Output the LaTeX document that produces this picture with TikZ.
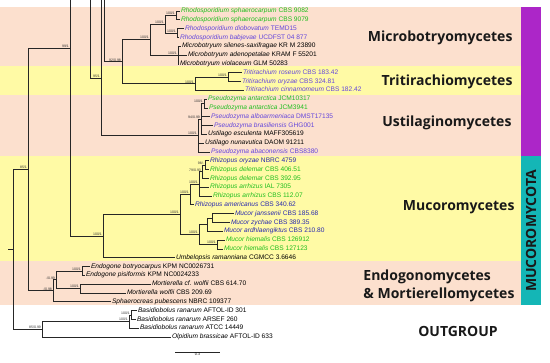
\documentclass[tikz,border=0pt]{standalone}
\usepackage{fontspec}
\setmainfont{Liberation Sans}
\newfontfamily\cladefont{Open Sans}

\definecolor{tgreen}{RGB}{30,190,30}
\definecolor{tviolet}{RGB}{100,70,220}
\definecolor{tblue}{RGB}{40,40,175}
\definecolor{bandpink}{RGB}{252,224,206}
\definecolor{bandyellow}{RGB}{255,250,165}
\definecolor{basidio}{RGB}{172,38,200}
\definecolor{mucoro}{RGB}{20,182,182}

\newcommand{\taxon}[2]{\textit{#1} #2}

\begin{document}
\begin{tikzpicture}[x=1pt, y=-1pt,
    branch/.style={line width=0.7pt, draw=black!85},
    leaf/.style={anchor=west, inner sep=0.8pt, font=\fontsize{6.6}{7}\selectfont, text height=4.7pt, text depth=1.4pt},
    support/.style={anchor=south east, inner sep=0.4pt, xshift=-0.5pt, font=\fontsize{3.5}{4}\selectfont, text=black!80},
    clade/.style={font=\cladefont\bfseries\fontsize{14}{18}\selectfont, text=black!90}]

    \useasboundingbox (0,0) rectangle (550,363);

    % class bands
    \fill[bandpink] (0,6.6) rectangle (521,66.5);
    \fill[bandyellow] (0,66.5) rectangle (521,94.7);
    \fill[bandpink] (0,94.7) rectangle (521,156.3);
    \fill[bandyellow] (0,156.3) rectangle (521,261.1);
    \fill[bandpink] (0,261.1) rectangle (521,305.1);

    % phylum bars
    \fill[basidio] (521,6.6) rectangle (541,156.3);
    \fill[mucoro] (521,156.3) rectangle (541,305.1);

    % Microbotryomycetes
    \node[leaf, tgreen] (l1) at (180,11.0) {\taxon{Rhodosporidium sphaerocarpum}{CBS 9082}};
    \node[leaf, tgreen] (l2) at (180,19.8) {\taxon{Rhodosporidium sphaerocarpum}{CBS 9079}};
    \node[leaf, tviolet] (l3) at (184,28.6) {\taxon{Rhodosporidium diobovatum}{TEMD15}};
    \node[leaf, tviolet] (l4) at (179,37.4) {\taxon{Rhodosporidium babjevae}{UCDFST 04 877}};
    \node[leaf] (l5) at (181,46.2) {\taxon{Microbotryum silenes-saxifragae}{KR M 23890}};
    \node[leaf] (l6) at (187,55.1) {\taxon{Microbotryum adenopetalae}{KRAM F 55201}};
    \node[leaf] (l7) at (179,63.9) {\taxon{Microbotryum violaceum}{GLM 50283}};

    % Tritirachiomycetes
    \node[leaf, tviolet] (l8) at (242,72.7) {\taxon{Tritirachium roseum}{CBS 183.42}};
    \node[leaf, tviolet] (l9) at (241,81.5) {\taxon{Tritirachium oryzae}{CBS 324.81}};
    \node[leaf, tviolet] (l10) at (244,90.3) {\taxon{Tritirachium cinnamomeum}{CBS 182.42}};

    % Ustilaginomycetes
    \node[leaf, tgreen] (l11) at (207,99.1) {\taxon{Pseudozyma antarctica}{JCM10317}};
    \node[leaf, tgreen] (l12) at (208,107.9) {\taxon{Pseudozyma antarctica}{JCM3941}};
    \node[leaf, tviolet] (l13) at (210,116.7) {\taxon{Pseudozyma alboarmeniaca}{DMST17135}};
    \node[leaf, tviolet] (l14) at (213,125.5) {\taxon{Pseudozyma brasiliensis}{GHG001}};
    \node[leaf] (l15) at (207,134.3) {\taxon{Ustilago esculenta}{MAFF305619}};
    \node[leaf] (l16) at (204,143.2) {\taxon{Ustilago nunavutica}{DAOM 91211}};
    \node[leaf, tviolet] (l17) at (210,152.0) {\taxon{Pseudozyma abaconensis}{CBS8380}};

    % Mucoromycetes
    \node[leaf, tblue] (l18) at (209,160.8) {\taxon{Rhizopus oryzae}{NBRC 4759}};
    \node[leaf, tgreen] (l19) at (209,169.6) {\taxon{Rhizopus delemar}{CBS 406.51}};
    \node[leaf, tgreen] (l20) at (209,178.4) {\taxon{Rhizopus delemar}{CBS 392.95}};
    \node[leaf, tgreen] (l21) at (209,187.2) {\taxon{Rhizopus arrhizus}{IAL 7305}};
    \node[leaf, tgreen] (l22) at (212,196.0) {\taxon{Rhizopus arrhizus}{CBS 112.07}};
    \node[leaf, tblue] (l23) at (194,204.8) {\taxon{Rhizopus americanus}{CBS 340.62}};
    \node[leaf, tblue] (l24) at (234,213.6) {\taxon{Mucor janssenii}{CBS 185.68}};
    \node[leaf, tblue] (l25) at (230,222.5) {\taxon{Mucor zychae}{CBS 389.35}};
    \node[leaf, tblue] (l26) at (223,231.3) {\taxon{Mucor ardhlaengiktus}{CBS 210.80}};
    \node[leaf, tgreen] (l27) at (225,240.1) {\taxon{Mucor hiemalis}{CBS 126912}};
    \node[leaf, tgreen] (l28) at (223,248.9) {\taxon{Mucor hiemalis}{CBS 127123}};
    \node[leaf] (l29) at (175,257.7) {\taxon{Umbelopsis ramanniana}{CGMCC 3.6646}};

    % Endogonomycetes and Mortierellomycetes
    \node[leaf] (l30) at (90,266.5) {\taxon{Endogone botryocarpus}{KPM NC0026731}};
    \node[leaf] (l31) at (85,275.3) {\taxon{Endogone pisiformis}{KPM NC0024233}};
    \node[leaf] (l32) at (151,284.1) {\taxon{Mortierella cf. wolfii}{CBS 614.70}};
    \node[leaf] (l33) at (126,292.9) {\taxon{Mortierella wolfii}{CBS 209.69}};
    \node[leaf] (l34) at (111,301.7) {\taxon{Sphaerocreas pubescens}{NBRC 109377}};

    % outgroup
    \node[leaf] (l35) at (137,310.6) {\taxon{Basidiobolus ranarum}{AFTOL-ID 301}};
    \node[leaf] (l36) at (136,319.4) {\taxon{Basidiobolus ranarum}{ARSEF 260}};
    \node[leaf] (l37) at (139,328.2) {\taxon{Basidiobolus ranarum}{ATCC 14449}};
    \node[leaf] (l38) at (171,337.0) {\taxon{Olpidium brassicae}{AFTOL-ID 633}};

    % internal nodes
    \coordinate (n12) at (176,15.4);
    \coordinate (n34) at (177,33.0);
    \coordinate (nRh) at (165,24.2);
    \coordinate (nMb) at (178,55.05);
    \coordinate (nMicro) at (150,39.6);
    \coordinate (nT89) at (228,77.1);
    \coordinate (nTri) at (195,83.7);
    \coordinate (nPuc) at (122,61.7);
    \coordinate (nPa) at (204,103.5);
    \coordinate (nP) at (201,118.9);
    \coordinate (nU) at (198,135.5);
    \coordinate (nBas) at (101,78.0);
    \coordinate (nA) at (205,165.2);
    \coordinate (nB) at (202,171.8);
    \coordinate (nD) at (199,183.9);
    \coordinate (nRhizo) at (190,194.35);
    \coordinate (nMjz) at (212,218.05);
    \coordinate (nMjza) at (207,224.7);
    \coordinate (nMh) at (217,244.5);
    \coordinate (nMucor) at (199,234.6);
    \coordinate (nMR) at (180,214.5);
    \coordinate (nMuc) at (103,236.1);
    \coordinate (nDik) at (70,48.0);
    \coordinate (nE) at (82,270.9);
    \coordinate (nMo) at (80,288.5);
    \coordinate (nb) at (56,279.7);
    \coordinate (na) at (53,290.7);
    \coordinate (n28) at (28,169.35);
    \coordinate (nB1) at (131,315.0);
    \coordinate (nB2) at (129,321.6);
    \coordinate (nO) at (42,329.3);
    \coordinate (root) at (13,249.3);
    \coordinate (rstub) at (8,249.3);

    % branches cut off at the top
    \coordinate (t70) at (70,0);
    \coordinate (t90) at (90,0);
    \coordinate (t101) at (101,0);
    \coordinate (t104) at (104,0);

    % Microbotryomycetes branches
    \draw[branch] (n12) |- (l1.west) (n12) |- (l2.west);
    \draw[branch] (n34) |- (l3.west) (n34) |- (l4.west);
    \draw[branch] (nRh) |- (n12) (nRh) |- (n34);
    \draw[branch] (nMb) |- (l5.west) (nMb) |- (l6.west) (nMb) |- (l7.west);
    \draw[branch] (nMicro) |- (nRh) (nMicro) |- (nMb);

    % Tritirachiomycetes branches
    \draw[branch] (nT89) |- (l8.west) (nT89) |- (l9.west);
    \draw[branch] (nTri) |- (nT89) (nTri) |- (l10.west);
    \draw[branch] (nPuc) |- (nMicro) (nPuc) |- (nTri);

    % Ustilaginomycetes branches
    \draw[branch] (nPa) |- (l11.west) (nPa) |- (l12.west);
    \draw[branch] (nP) |- (nPa) (nP) |- (l13.west) (nP) |- (l14.west) (nP) |- (l15.west);
    \draw[branch] (nU) |- (nP) (nU) |- (l16.west) (nU) |- (l17.west);

    % backbone at the top
    \draw[branch] (t104) |- (nPuc);
    \draw[branch] (t101) |- (nU);
    \draw[branch] (t90) |- (nBas);
    \draw[branch] (t70) |- (nMuc);

    % Mucoromycetes branches
    \draw[branch] (nA) |- (l18.west) (nA) |- (l19.west);
    \draw[branch] (nB) |- (nA) (nB) |- (l20.west);
    \draw[branch] (nD) |- (nB) (nD) |- (l21.west) (nD) |- (l22.west);
    \draw[branch] (nRhizo) |- (nD) (nRhizo) |- (l23.west);
    \draw[branch] (nMjz) |- (l24.west) (nMjz) |- (l25.west);
    \draw[branch] (nMjza) |- (nMjz) (nMjza) |- (l26.west);
    \draw[branch] (nMh) |- (l27.west) (nMh) |- (l28.west);
    \draw[branch] (nMucor) |- (nMjza) (nMucor) |- (nMh);
    \draw[branch] (nMR) |- (nRhizo) (nMR) |- (nMucor);
    \draw[branch] (nMuc) |- (nMR) (nMuc) |- (l29.west);

    % Endogonomycetes and Mortierellomycetes branches
    \draw[branch] (nE) |- (l30.west) (nE) |- (l31.west);
    \draw[branch] (nMo) |- (l32.west) (nMo) |- (l33.west);
    \draw[branch] (nb) |- (nE) (nb) |- (nMo);
    \draw[branch] (na) |- (nb) (na) |- (l34.west);
    \draw[branch] (n28) |- (nDik) (n28) |- (na);

    % outgroup branches
    \draw[branch] (nB1) |- (l35.west) (nB1) |- (l36.west);
    \draw[branch] (nB2) |- (nB1) (nB2) |- (l37.west);
    \draw[branch] (nO) |- (nB2) (nO) |- (l38.west);
    \draw[branch] (root) |- (n28) (root) |- (nO);
    \draw[branch] (rstub) -- (root);

    % support values
    \node[support] (s12) at (n12) {100/1};
    \node[support] (s34) at (n34) {100/1};
    \node[support] (sRh) at (nRh) {100/1};
    \node[support] (sMb) at (nMb) {100/1};
    \node[support] (sMicro) at (nMicro) {100/1};
    \node[support] (sT89) at (nT89) {100/1};
    \node[support] (sTri) at (nTri) {100/1};
    \node[support] (sPuc) at (nPuc) {92/0.98};
    \node[support] (sBas) at (nBas) {95/1};
    \node[support] (sDik) at (nDik) {99/1};
    \node[support] (sPa) at (nPa) {100/1};
    \node[support] (sP) at (nP) {94/0.99};
    \node[support] (sU) at (nU) {100/1};
    \node[support] (sA) at (nA) {98/-};
    \node[support] (sB) at (nB) {79/0.93};
    \node[support] (sD) at (nD) {100/1};
    \node[support] (sRhizo) at (nRhizo) {100/1};
    \node[support] (sMh) at (nMh) {100/1};
    \node[support] (sMucor) at (nMucor) {100/1};
    \node[support] (sMR) at (nMR) {100/1};
    \node[support] (sMuc) at (nMuc) {100/1};
    \node[support] (sE) at (nE) {100/1};
    \node[support] (sMo) at (nMo) {100/1};
    \node[support] (sb) at (nb) {-/0.99};
    \node[support] (sa) at (na) {-/0.98};
    \node[support] (s28) at (n28) {85/1};
    \node[support] (sB1) at (nB1) {100/1};
    \node[support] (sB2) at (nB2) {100/1};
    \node[support] (sO) at (nO) {85/0.99};

    % scale bar
    \coordinate (sb1) at (175,352);
    \coordinate (sb2) at (220,352);
    \draw[branch] (sb1) -- node[below, inner sep=1pt, font=\fontsize{3.6}{4}\selectfont] (sbl) {0.3} (sb2);

    % class names
    \node[clade, anchor=east] (cMicro) at (516,38) {Microbotryomycetes};
    \node[clade, anchor=east] (cTri) at (516,82) {Tritirachiomycetes};
    \node[clade, anchor=east] (cUst) at (515,123) {Ustilaginomycetes};
    \node[clade, anchor=east] (cMuc) at (518,207) {Mucoromycetes};
    \node[clade, anchor=east, align=left] (cEnd) at (518,286) {Endogonomycetes\\\& Mortierellomycetes};
    \node[clade] (cOut) at (458,331) {OUTGROUP};
    \node[clade, rotate=90] (cMucota) at (531,231) {MUCOROMYCOTA};

\end{tikzpicture}
\end{document}
